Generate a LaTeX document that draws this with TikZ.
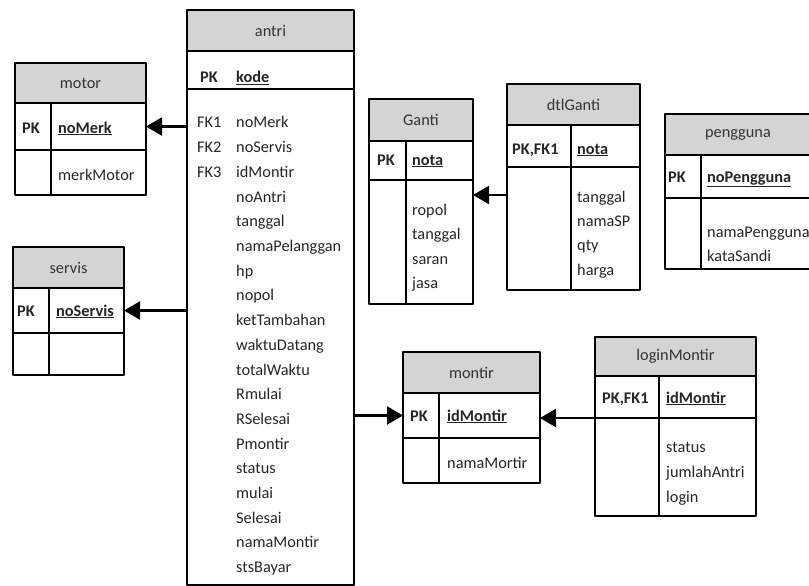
\documentclass[tikz,border=0pt]{standalone}
\usepackage{fontspec}
\setmainfont{Carlito}
\usetikzlibrary{positioning,arrows.meta}

\begin{document}
\begin{tikzpicture}[x=1pt, y=-1pt, font=\fontsize{16.3}{24.7}\selectfont, line join=round,
	hdr/.style={draw, fill=black!17, line width=1.4pt, anchor=north west, inner sep=0pt, outer sep=0pt, text=black!80},
	row/.style={draw, line width=1.4pt, anchor=north west, inner sep=0pt, outer sep=0pt},
	txt/.style={anchor=base west, inner sep=0pt, text=black!85},
	key/.style={txt, font=\fontsize{16.3}{24.7}\selectfont\bfseries},
	sep/.style={line width=1.4pt},
	fk/.style={-{Triangle[length=16pt,width=18pt]}, line width=2.2pt}]
	\useasboundingbox (0,0) rectangle (809,586);
	
	% motor
	\node[hdr, minimum width=131pt, minimum height=40pt] (motor) at (15,63) {motor};
	\node[row, minimum width=131pt, minimum height=47pt, below=0pt of motor] (motor-pk) {};
	\node[row, minimum width=131pt, minimum height=45pt, below=0pt of motor-pk] (motor-at) {};
	\draw[sep] ([xshift=36pt]motor-pk.north west) -- ([xshift=36pt]motor-at.south west);
	\node[key] (motor-k) at (22,133) {PK};
	\node[key] (motor-id) at (58,133) {\underline{noMerk}};
	\node[txt] (motor-a1) at (58,180) {merkMotor};
	
	% servis
	\node[hdr, minimum width=111pt, minimum height=41pt] (servis) at (13,247) {servis};
	\node[row, minimum width=111pt, minimum height=45pt, below=0pt of servis] (servis-pk) {};
	\node[row, minimum width=111pt, minimum height=42pt, below=0pt of servis-pk] (servis-at) {};
	\draw[sep] ([xshift=36pt]servis-pk.north west) -- ([xshift=36pt]servis-at.south west);
	\node[key] (servis-k) at (17,316) {PK};
	\node[key] (servis-id) at (56,316) {\underline{noServis}};
	
	% antri
	\node[hdr, minimum width=167pt, minimum height=41pt] (antri) at (187,10) {antri};
	\node[row, minimum width=167pt, minimum height=38pt, below=0pt of antri] (antri-pk) {};
	\node[row, minimum width=167pt, minimum height=496pt, below=0pt of antri-pk] (antri-at) {};
	\node[key] (antri-k) at (200,83) {PK};
	\node[key] (antri-id) at (236,83) {\underline{kode}};
	\foreach \lbl [count=\i from 0] in {FK1,FK2,FK3}
		\node[txt] (antri-f\i) at (197,{128+24.7*\i}) {\lbl};
	\foreach \a [count=\i from 0] in {noMerk,noServis,idMontir,noAntri,tanggal,namaPelanggan,hp,nopol,ketTambahan,waktuDatang,totalWaktu,Rmulai,RSelesai,Pmontir,status,mulai,Selesai,namaMontir,stsBayar}
		\node[txt] (antri-a\i) at (236,{128+24.7*\i}) {\a};
	
	% Ganti
	\node[hdr, minimum width=104pt, minimum height=42pt] (ganti) at (369,99) {Ganti};
	\node[row, minimum width=104pt, minimum height=39pt, below=0pt of ganti] (ganti-pk) {};
	\node[row, minimum width=104pt, minimum height=124pt, below=0pt of ganti-pk] (ganti-at) {};
	\draw[sep] ([xshift=37pt]ganti-pk.north west) -- ([xshift=37pt]ganti-at.south west);
	\node[key] (ganti-k) at (377,165) {PK};
	\node[key] (ganti-id) at (412,165) {\underline{nota}};
	\foreach \a [count=\i from 0] in {ropol,tanggal,saran,jasa}
		\node[txt] (ganti-a\i) at (412,{215+24.5*\i}) {\a};
	
	% dtlGanti
	\node[hdr, minimum width=133pt, minimum height=41pt] (dtl) at (507,84) {dtlGanti};
	\node[row, minimum width=133pt, minimum height=42pt, below=0pt of dtl] (dtl-pk) {};
	\node[row, minimum width=133pt, minimum height=123pt, below=0pt of dtl-pk] (dtl-at) {};
	\draw[sep] ([xshift=64pt]dtl-pk.north west) -- ([xshift=64pt]dtl-at.south west);
	\node[key] (dtl-k) at (512,154) {PK,FK1};
	\node[key] (dtl-id) at (577,154) {\underline{nota}};
	\foreach \a [count=\i from 0] in {tanggal,namaSP,qty,harga}
		\node[txt] (dtl-a\i) at (577,{202+24.4*\i}) {\a};
	
	% pengguna
	\node[hdr, minimum width=146pt, minimum height=41pt] (user) at (665,114) {pengguna};
	\node[row, minimum width=146pt, minimum height=43pt, below=0pt of user] (user-pk) {};
	\node[row, minimum width=146pt, minimum height=71pt, below=0pt of user-pk] (user-at) {};
	\draw[sep] ([xshift=36pt]user-pk.north west) -- ([xshift=36pt]user-at.south west);
	\node[key] (user-k) at (668,182) {PK};
	\node[key] (user-id) at (707,182) {\underline{noPengguna}};
	\node[txt] (user-a0) at (707,237) {namaPengguna};
	\node[txt] (user-a1) at (707,261) {kataSandi};
	
	% montir
	\node[hdr, minimum width=137pt, minimum height=41pt] (montir) at (403,352) {montir};
	\node[row, minimum width=137pt, minimum height=45pt, below=0pt of montir] (montir-pk) {};
	\node[row, minimum width=137pt, minimum height=45pt, below=0pt of montir-pk] (montir-at) {};
	\draw[sep] ([xshift=36pt]montir-pk.north west) -- ([xshift=36pt]montir-at.south west);
	\node[key] (montir-k) at (410,421) {PK};
	\node[key] (montir-id) at (447,421) {\underline{idMontir}};
	\node[txt] (montir-a0) at (447,468) {namaMortir};
	
	% loginMontir
	\node[hdr, minimum width=161pt, minimum height=39pt] (login) at (595,337) {loginMontir};
	\node[row, minimum width=161pt, minimum height=42pt, below=0pt of login] (login-pk) {};
	\node[row, minimum width=161pt, minimum height=98pt, below=0pt of login-pk] (login-at) {};
	\draw[sep] ([xshift=64pt]login-pk.north west) -- ([xshift=64pt]login-at.south west);
	\node[key] (login-k) at (602,403) {PK,FK1};
	\node[key] (login-id) at (666,403) {\underline{idMontir}};
	\foreach \a [count=\i from 0] in {status,jumlahAntri,login}
		\node[txt] (login-a\i) at (666,{452+25*\i}) {\a};
	
	% relasi
	\draw[fk] (antri-at.west |- motor-pk) -- (motor-pk.east);
	\draw[fk] (antri-at.west |- servis-pk) -- (servis-pk.east);
	\draw[fk] (antri-at.east |- montir-pk) -- (montir-pk.west);
	\draw[fk] (login-pk.south west) -- (montir-pk.east |- login-pk.south west);
	\draw[fk] (dtl-at.west |- 0,195) -- (ganti-at.east |- 0,195);
\end{tikzpicture}
\end{document}
